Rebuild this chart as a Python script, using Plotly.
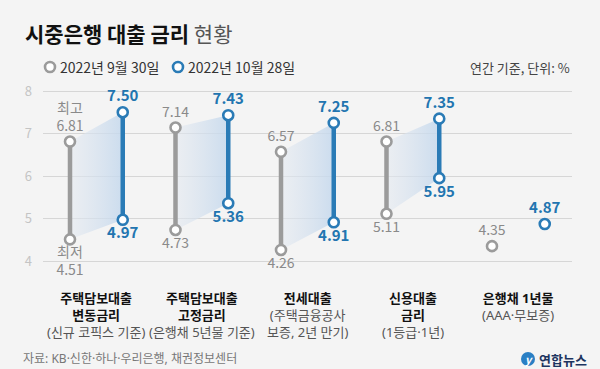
import plotly.graph_objects as go

# ---------------- data ----------------
cat_titles = [["주택담보대출", "변동금리"], ["주택담보대출", "고정금리"], ["전세대출"], ["신용대출", "금리"], ["은행채 1년물"]]
cat_subs = [["(신규 코픽스 기준)"], ["(은행채 5년물 기준)"], ["(주택금융공사", "보증, 2년 만기)"], ["(1등급·1년)"], ["(AAA·무보증)"]]
sep_high = [6.81, 7.14, 6.57, 6.81, 4.35]   # 2022-09-30
sep_low = [4.51, 4.73, 4.26, 5.11, 4.35]
oct_high = [7.50, 7.43, 7.25, 7.35, 4.87]   # 2022-10-28
oct_low = [4.97, 5.36, 4.91, 5.95, 4.87]
y_ticks = [4, 5, 6, 7, 8]
legend_labels = ["2022년 9월 30일", "2022년 10월 28일"]

GRAY = "#9b9b9b"
BLUE = "#2a7bb6"
BG = "#f4f4f4"
FONT = "Noto Sans CJK KR"
FONT_MIX = "Noto Sans, Noto Sans CJK KR"

W, H = 600, 369
PL, PR, PT, PB = 43, 572, 89, 263
PXU = 42.5

def xp(px):
    return (px - PL) / (PR - PL)

def yp(py):
    return (PB - py) / (PB - PT)

n = len(sep_high)
xg = list(range(n))
xb = [i + 0.5 for i in range(n)]

fig = go.Figure()

# shaded bands between gray and blue ranges
for i in range(n):
    if sep_high[i] == sep_low[i]:
        continue
    fig.add_trace(go.Scatter(
        x=[xg[i], xb[i], xb[i], xg[i], xg[i]],
        y=[sep_high[i], oct_high[i], oct_low[i], sep_low[i], sep_high[i]],
        mode="lines", line=dict(width=0), fill="toself",
        fillgradient=dict(type="horizontal",
                          colorscale=[[0, "rgba(228,233,240,0.55)"], [1, "rgba(196,216,237,0.85)"]]),
        hoverinfo="skip", showlegend=False))

# vertical range lines
def seg(xs, hi, lo):
    X, Y = [], []
    for x, h, l in zip(xs, hi, lo):
        if h != l:
            X += [x, x, None]
            Y += [l, h, None]
    return X, Y

gx, gy = seg(xg, sep_high, sep_low)
bx, by = seg(xb, oct_high, oct_low)
fig.add_trace(go.Scatter(x=gx, y=gy, mode="lines", line=dict(color=GRAY, width=4.5),
                         showlegend=False, hoverinfo="skip"))
fig.add_trace(go.Scatter(x=bx, y=by, mode="lines", line=dict(color=BLUE, width=4.5),
                         showlegend=False, hoverinfo="skip"))

# markers + labels
def pts(xs, hi, lo, first_prefix=False):
    X, Y, T, P = [], [], [], []
    for i, (x, h, l) in enumerate(zip(xs, hi, lo)):
        th = f"{h:.2f}"
        tl = f"{l:.2f}"
        if first_prefix and i == 0:
            th = "최고<br>" + th
            tl = "최저<br>" + tl
        X.append(x); Y.append(h); T.append(th); P.append("top center")
        if h != l:
            X.append(x); Y.append(l); T.append(tl); P.append("bottom center")
    return X, Y, T, P

X, Y, T, P = pts(xg, sep_high, sep_low, first_prefix=True)
fig.add_trace(go.Scatter(x=X, y=Y, mode="markers+text", text=T, textposition=P,
                         marker=dict(size=10, color="white", line=dict(color=GRAY, width=2.6)),
                         textfont=dict(family=FONT, size=14, color="#8a8a8a"),
                         cliponaxis=False, showlegend=False, hoverinfo="skip"))
X, Y, T, P = pts(xb, oct_high, oct_low)
fig.add_trace(go.Scatter(x=X, y=Y, mode="markers+text", text=T, textposition=P,
                         marker=dict(size=10, color="white", line=dict(color=BLUE, width=2.6)),
                         textfont=dict(family=FONT, size=15, color="#2275b0", weight="bold"),
                         cliponaxis=False, showlegend=False, hoverinfo="skip"))

annotations = []
shapes = []

# category labels (one multi-line block per category)
for i in range(n):
    cx = i + 0.25
    lines = [f"<span style='color:#111'><b>{t}</b></span>" for t in cat_titles[i]]
    lines += [f"<span style='color:#555'>{t}</span>" for t in cat_subs[i]]
    annotations.append(dict(x=cx, xref="x", y=yp(288), yref="paper",
                            text="<br>".join(lines), showarrow=False, xanchor="center", yanchor="top",
                            align="center", borderpad=0,
                            font=dict(family=FONT_MIX, size=13, color="#555")))

# title
annotations.append(dict(x=xp(23), xref="paper", y=yp(33), yref="paper", xanchor="left", yanchor="middle",
                        text="<b>시중은행 대출 금리</b> <span style='color:#555'>현황</span>",
                        showarrow=False, font=dict(family=FONT, size=21, color="#111")))
# legend
for (cx, col, lab) in [(50, GRAY, legend_labels[0]), (178, BLUE, legend_labels[1])]:
    shapes.append(dict(type="circle", xref="paper", yref="paper", xsizemode="pixel", ysizemode="pixel",
                       xanchor=xp(cx), yanchor=yp(67), x0=-5, x1=5, y0=-5, y1=5,
                       line=dict(color=col, width=2.6), fillcolor="white"))
    annotations.append(dict(x=xp(cx + 8), xref="paper", y=yp(67), yref="paper", xanchor="left", yanchor="middle",
                            text=lab, showarrow=False, font=dict(family=FONT, size=14, color="#333")))
annotations.append(dict(x=xp(572), xref="paper", y=yp(67), yref="paper", xanchor="right", yanchor="middle",
                        text="연간 기준, 단위: %", showarrow=False, font=dict(family=FONT, size=13, color="#444")))
# source
annotations.append(dict(x=xp(21), xref="paper", y=yp(358), yref="paper", xanchor="left", yanchor="middle",
                        text="자료: KB·신한·하나·우리은행, 채권정보센터", showarrow=False,
                        font=dict(family=FONT_MIX, size=12, color="#777")))
# logo
shapes.append(dict(type="circle", xref="paper", yref="paper", xsizemode="pixel", ysizemode="pixel",
                   xanchor=xp(528), yanchor=yp(359), x0=-7, x1=7, y0=-7, y1=7,
                   line=dict(color="#1f6fb5", width=0), fillcolor="#2a7fc4"))
annotations.append(dict(x=xp(528), xref="paper", y=yp(359), yref="paper", xanchor="center", yanchor="middle",
                        text="<i><b>y</b></i>", showarrow=False, font=dict(family=FONT, size=11, color="white")))
annotations.append(dict(x=xp(537), xref="paper", y=yp(359), yref="paper", xanchor="left", yanchor="middle",
                        text="<b>연합뉴스</b>", showarrow=False, font=dict(family=FONT, size=13, color="#1d3560")))

fig.update_layout(
    width=W, height=H,
    margin=dict(l=PL, r=W - PR, t=PT, b=H - PB, pad=0),
    paper_bgcolor=BG, plot_bgcolor=BG,
    xaxis=dict(range=[(PL - 70) / 105.5, (PR - 70) / 105.5], showgrid=False, zeroline=False,
               showticklabels=False, fixedrange=True),
    yaxis=dict(range=[4 - (PB - 261) / PXU, 8 + (91 - PT) / PXU], tickvals=y_ticks,
               ticktext=[str(v) for v in y_ticks], showgrid=True, gridcolor="#d6d6d6", gridwidth=1,
               zeroline=False, tickfont=dict(family=FONT, size=13, color="#c4c4c4"),
               ticklabelstandoff=10, fixedrange=True),
    annotations=annotations, shapes=shapes,
    showlegend=False,
)

fig.write_html("out.html", config={"displayModeBar": False},
               post_script="document.body.style.margin='0';document.body.style.background='" + BG + "';")
